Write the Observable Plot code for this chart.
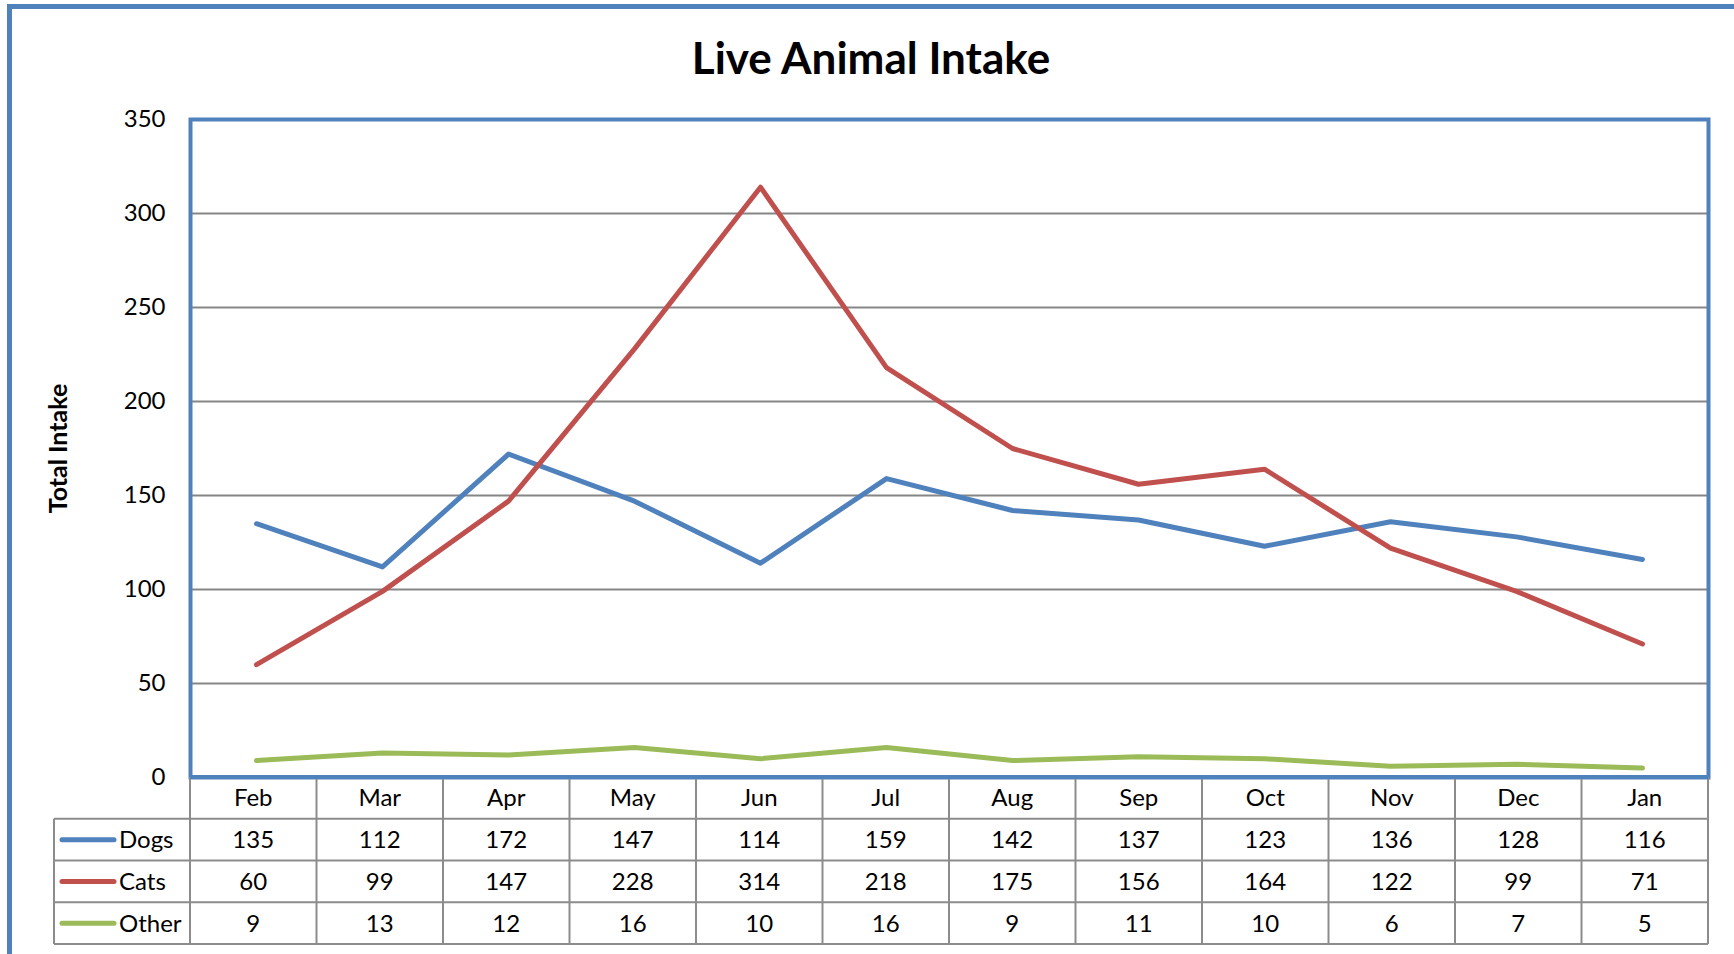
<!DOCTYPE html>
<html><head><meta charset="utf-8">
<script src="https://cdn.jsdelivr.net/npm/d3@7"></script>
<script src="https://cdn.jsdelivr.net/npm/@observablehq/plot@0.6"></script>
<style>
body{margin:0;background:#fff;}
#wrap{position:relative;width:1734px;height:954px;overflow:hidden;font-family:Lato, "Open Sans", sans-serif;}
#border{position:absolute;left:7px;top:4px;width:3000px;height:3000px;border-left:5px solid #4F81BD;border-top:5px solid #4F81BD;}
#title{position:absolute;left:4px;width:1734px;top:27px;text-align:center;font-weight:bold;font-size:44px;color:#000;line-height:60px;}
#chart{position:absolute;left:0;top:0;}
</style></head><body>
<div id="wrap"><div id="border"></div><div id="title"></div><div id="chart"></div></div>
<script>
const chartTitle = "Live Animal Intake";
const yLabel = "Total Intake";
const months = ["Feb","Mar","Apr","May","Jun","Jul","Aug","Sep","Oct","Nov","Dec","Jan"];
const dogs  = [135,112,172,147,114,159,142,137,123,136,128,116];
const cats  = [60,99,147,228,314,218,175,156,164,122,99,71];
const other = [9,13,12,16,10,16,9,11,10,6,7,5];
const seriesNames = ["Dogs","Cats","Other"];
const seriesColors = ["#4F81BD","#C0504D","#9BBB59"];
const yTicks = [0,50,100,150,200,250,300,350];

document.getElementById("title").textContent = chartTitle;

const seriesValues = [dogs, cats, other];
const rows = [];
seriesNames.forEach((s, si) => months.forEach((m, i) => rows.push({series: s, month: m, value: seriesValues[si][i]})));

const W = 1734, H = 954, L = 190, R = 1708, T = 119, B = 777;
const rowH = 41.75;
const FONT = "Lato, 'Open Sans', sans-serif";
const FS = 24;

const plot = Plot.plot({
  width: W, height: H,
  marginLeft: L, marginRight: W - R, marginTop: T, marginBottom: H - B,
  style: {fontFamily: FONT, fontSize: FS + "px", color: "#000", background: "transparent", overflow: "visible"},
  x: {type: "band", domain: months, padding: 0, axis: null},
  y: {domain: [0, 350], axis: null},
  color: {domain: seriesNames, range: seriesColors},
  marks: [
    Plot.gridY(yTicks.filter(t => t > 0 && t < 350), {stroke: "#868686", strokeOpacity: 1, strokeWidth: 2}),
    Plot.axisY(yTicks, {tickSize: 0, tickPadding: 25, fontSize: FS, label: null, fill: "#000"}),
    Plot.text([yLabel], {frameAnchor: "left", textAnchor: "middle", dx: -132, rotate: -90, fontWeight: "bold", fontSize: 25, fill: "#000"}),
    Plot.lineY(rows, {x: "month", y: "value", stroke: "series", strokeWidth: 5, strokeLinejoin: "round", strokeLinecap: "round"}),
    Plot.frame({stroke: "#4F81BD", strokeWidth: 4})
  ]
});
document.getElementById("chart").appendChild(plot);

// data table below the plot, aligned to the x band scale
const xs = plot.scale("x");
const band = d3.scaleBand().domain(xs.domain).range(xs.range).padding(0);
const bw = band.bandwidth();
const svg = d3.select(plot);
const g = svg.append("g").attr("font-family", FONT).attr("font-size", FS).attr("fill", "#000");
const tableLeft = 54;
const gridColor = "#8C8C8C";
const rowTop = i => B + rowH * i;
for (let i = 1; i <= 4; i++) {
  g.append("line").attr("x1", tableLeft).attr("x2", R).attr("y1", rowTop(i)).attr("y2", rowTop(i)).attr("stroke", gridColor).attr("stroke-width", 2);
}
g.append("line").attr("x1", tableLeft).attr("x2", tableLeft).attr("y1", rowTop(1)).attr("y2", rowTop(4)).attr("stroke", gridColor).attr("stroke-width", 2);
months.forEach(m => {
  const x0 = band(m);
  g.append("line").attr("x1", x0).attr("x2", x0).attr("y1", B).attr("y2", rowTop(4)).attr("stroke", gridColor).attr("stroke-width", 2);
});
g.append("line").attr("x1", R).attr("x2", R).attr("y1", B).attr("y2", rowTop(4)).attr("stroke", gridColor).attr("stroke-width", 2);
months.forEach(m => {
  g.append("text").attr("x", band(m) + bw / 2).attr("y", rowTop(0) + rowH / 2).attr("dy", "0.35em").attr("text-anchor", "middle").text(m);
});
seriesNames.forEach((s, si) => {
  const yc = rowTop(si + 1) + rowH / 2;
  g.append("line").attr("x1", 62).attr("x2", 114).attr("y1", yc).attr("y2", yc).attr("stroke", seriesColors[si]).attr("stroke-width", 5).attr("stroke-linecap", "round");
  g.append("text").attr("x", 119).attr("y", yc).attr("dy", "0.35em").attr("text-anchor", "start").text(s);
  months.forEach((m, i) => {
    g.append("text").attr("x", band(m) + bw / 2).attr("y", yc).attr("dy", "0.35em").attr("text-anchor", "middle").text(seriesValues[si][i]);
  });
});
svg.append("line").attr("x1", L).attr("x2", R).attr("y1", B).attr("y2", B).attr("stroke", "#4F81BD").attr("stroke-width", 4);
</script>
</body></html>
